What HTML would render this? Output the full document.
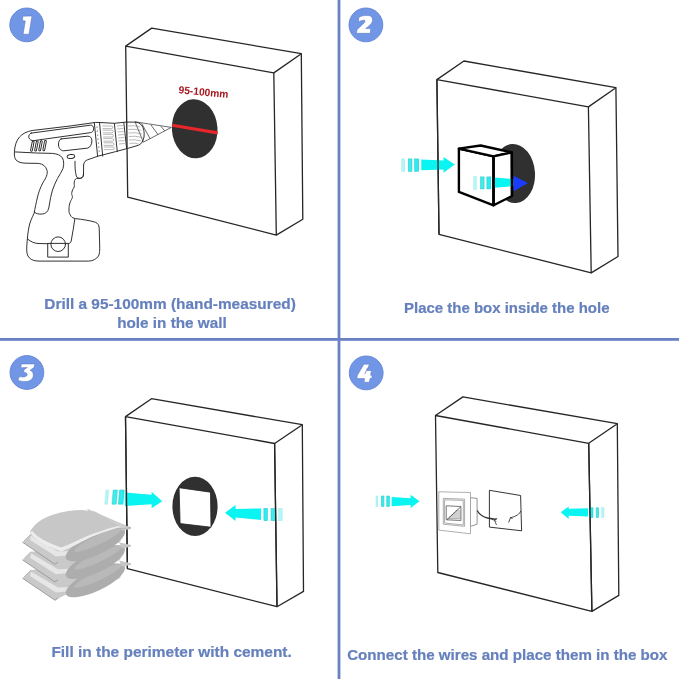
<!DOCTYPE html>
<html><head><meta charset="utf-8"><style>
html,body{margin:0;padding:0;background:#fff;width:679px;height:679px;overflow:hidden}
svg{display:block}
.t{font-family:"Liberation Sans",sans-serif;font-weight:bold;font-size:15px;fill:#6580bd;stroke:#6580bd;stroke-width:0.2}
.n{font-family:"Liberation Sans",sans-serif;font-weight:bold;font-style:italic;font-size:26px;fill:#fff}
.bx{fill:none;stroke:#262626;stroke-width:1.3;stroke-linejoin:round}
.dr{fill:none;stroke:#262626;stroke-width:0.95;stroke-linejoin:round;stroke-linecap:round}
.dl{fill:none;stroke:#8a8a8a;stroke-width:0.6}
</style></head><body>
<svg style="will-change:transform" width="679" height="679" viewBox="0 0 679 679">
<rect width="679" height="679" fill="#fff"/>
<!-- dividers -->
<rect x="337.6" y="0" width="2.8" height="679" fill="#6a82c4"/>
<rect x="0" y="338" width="679" height="2.8" fill="#6a82c4"/>

<!-- step circles -->
<circle cx="26.7" cy="24.9" r="16.9" fill="#7196e6" stroke="#6083d4" stroke-width="0.9"/>
<circle cx="365.9" cy="24.9" r="16.9" fill="#7196e6" stroke="#6083d4" stroke-width="0.9"/>
<circle cx="26.9" cy="372.5" r="16.9" fill="#7196e6" stroke="#6083d4" stroke-width="0.9"/>
<circle cx="366.2" cy="372.9" r="16.9" fill="#7196e6" stroke="#6083d4" stroke-width="0.9"/>
<g fill="#fff" stroke="#5571b8" stroke-width="0.5" stroke-linejoin="round">
<path d="M22.9,16.2 L31.9,16 L29,34.2 L23.1,34.2 L25.3,21 L22.4,20.4 Z"/>
<path d="M358.9,17.2 C361,15.9 364,15.5 367.7,15.5 C371,15.6 372.8,17.2 372.6,20 C372.4,22.5 370.8,24.5 368.8,26 L365.7,28.6 L370.7,28.6 L370.3,33.3 L356.3,33.3 L357,29.7 L364,23 C365.2,21.8 365.5,20.8 364.5,20.3 C362.5,20 360.5,20.8 358.5,21.9 Z"/>
<path d="M21.3,364 L34.9,364 L34,367.5 L30.1,370.3 C32.3,371 33.5,373 33.3,375.5 C33,379 30,381.4 26,381.5 C22.5,381.6 19.5,381 17.9,380.2 L19.4,376.6 C21,377 23,377.2 24.8,376.8 C26.6,376.4 27.4,375.5 27.2,374.3 C27,373 25.5,372.5 23.5,372.3 L24.3,369.5 L27.3,367.5 L20.8,367.7 Z"/>
<path d="M363.9,364.2 L369.4,364.2 L367,370.5 L371.4,370.5 L370.6,375.3 L372.2,375.3 L371.7,378.6 L370,378.6 L369.4,382.2 L364,382.2 L364.6,378.6 L356.8,378.6 L357.4,375.3 Z"/>
</g>
<line x1="364.8" y1="374" x2="367.6" y2="367.8" stroke="#5571b8" stroke-width="0.7"/>

<!-- ================= PANEL 1 ================= -->
<!-- box 1 -->
<g class="bx">
<polygon points="125.7,46.1 273.8,72.9 276.3,235.1 127.7,197.2"/>
<polyline points="125.7,46.1 151.7,28.1 301.3,53.7 273.8,72.9"/>
<polyline points="301.3,53.7 302.8,219.2 276.3,235.1"/>
</g>
<!-- hole 1 -->
<ellipse cx="194.7" cy="128.8" rx="22.8" ry="29.6" fill="#303030" transform="rotate(-4 194.7 128.8)"/>
<line x1="172.2" y1="125.3" x2="217.6" y2="132.9" stroke="#e6262b" stroke-width="3.1"/>
<text x="178.3" y="93.2" transform="rotate(5.5 178.3 93.2)" style="font-family:'Liberation Sans',sans-serif;font-weight:bold;font-size:10.5px;fill:#a8151e" textLength="50" lengthAdjust="spacingAndGlyphs">95-100mm</text>

<!-- drill -->
<g id="drill">
<!-- bit cone -->
<path d="M135,121.8 L171.3,127.4 L143.4,142.2 Z" fill="#fff" stroke="#3a3a3a" stroke-width="0.75" stroke-linejoin="round"/>
<path d="M141.6,123.4 L150.2,138.8 M150.9,124.9 L158.2,134.9 M160.8,126.3 L164.8,130.9" fill="none" stroke="#3a3a3a" stroke-width="0.75"/>
<!-- main body white fill -->
<path class="dr" fill="#fff" d="M95,122.5 L70,126 L32.1,130.5 C27,131.5 22.4,133.6 19.5,137 C16.5,140.5 14.9,145 14.4,151.5 C14.2,155 14.4,158 16,160 C18,162.2 21.5,163.1 25.9,163.2 L38.5,163.4 C43,163.8 46,166.5 47.1,170.5 C47.8,174 46,178 43.1,182.4 C40,188 38.5,193 37.5,197 C36,204 35,208 34.1,213.3 C31.8,218 30,222 29.2,226 C27.8,232 27.2,240 26.8,246 C26.5,252 26.8,255.5 29.7,258.2 C32,260.2 35,261.1 39,261.1 L88.6,261.1 C93,261 96.5,259 98.5,256 C99.7,253.5 99.8,250 99.7,246 L99.2,228 C99,225 97.8,223.3 95.5,222.3 C90,220.5 82,219.4 75.4,218.6 C73.5,218.2 72,217.6 71.2,216.5 C70,214.5 69,213 69,211.2 L69,207.7 C69.3,204 70.2,202 71,200.3 C71.8,199 72.5,198 72.4,196.5 C72.3,195.5 71.7,195 71.7,193.5 C71.7,192 72.5,190 73.3,188.6 C74,187.5 74.5,186.8 74.4,185.5 C74.2,184 74,182.5 74.6,180.6 C75,179.5 75.8,178.8 76.6,178.4 L78.9,178.4 C81.5,178.4 83,177.5 83.5,175 L83.6,165 C84,162 85.5,160.5 87.5,159.8 L98.2,156.1 L115.3,151.7 L127.4,148.5 L138.7,145.2 C141.5,144 143.2,141 144,137 C144.6,132 143.8,128 141.5,125 C139.5,123 137.5,122.2 135,122.1 L126,122.1 L114.4,123.3 L99.5,122.5 Z"/>
<!-- top inner line / upper slot -->
<path class="dr" d="M31.2,133.1 L90.3,125.2 C92.5,125.1 93.6,126.5 93.6,128.8 C93.6,131 92.5,132.4 90.3,132.7 L33.9,140.6 C31.5,140.9 29.3,139.5 28.8,137.5 C28.5,135.5 29.4,133.6 31.2,133.1 Z"/>
<!-- window -->
<path class="dr" d="M61.2,138.9 L87.7,136.2 C90.2,136 91.9,138 91.9,140.8 C91.9,144 90.2,147.6 87.7,148.1 L63.8,150.8 C61,151 58.6,148.2 58.5,145 C58.4,141.6 59.5,139.2 61.2,138.9 Z"/>
<!-- vents -->
<g class="dr" stroke-width="0.7">
<rect x="31.40" y="140.90" width="1.8" height="10.4" rx="0.9" transform="rotate(11 32.30 146.10)"/>
<rect x="35.50" y="140.75" width="1.8" height="10.4" rx="0.9" transform="rotate(11 36.40 145.95)"/>
<rect x="39.60" y="140.60" width="1.8" height="10.4" rx="0.9" transform="rotate(11 40.50 145.80)"/>
<rect x="43.70" y="140.45" width="1.8" height="10.4" rx="0.9" transform="rotate(11 44.60 145.65)"/>
</g>
<!-- trigger button -->
<ellipse class="dr" cx="70.9" cy="156.5" rx="3.8" ry="2" transform="rotate(-8 70.9 156.5)"/>
<!-- grip panel -->
<path class="dr" d="M14.6,151.9 L36.5,153 L52.4,153.4 C57,153.8 60.5,155 62.5,158 C64,161 64,165 63,168.5 C61.5,172 59.5,175 57.5,178.5 C55.5,182 54,186 52.5,190 C51,195 50,200 49.3,205 C48.8,209.5 47.5,212.5 44.5,213.5 C41.5,214.5 38,214.2 36,213.2 L34.3,212"/>
<!-- trigger -->
<path class="dr" d="M75,161.2 C74.8,166 75.2,172 76.3,176 C77,178 78.5,178.5 80.5,178.3 C82.5,178 83.4,176.5 83.5,174"/>
<!-- battery top -->
<path class="dr" d="M27.5,239 C31,241.8 34,243.2 38,243.5 L48.1,243.7 M68.3,243.8 C70,243.4 70.8,242.5 71.2,241 L73.2,229.5 L74.8,219.2"/>
<rect class="dr" x="48.1" y="243.4" width="20.2" height="13.7"/>
<circle class="dr" cx="58.2" cy="244.2" r="7.3" fill="#fff"/>
<!-- collar -->
<path class="dr" d="M94.3,122.6 L97.6,156.2 M99.5,122.5 L102.7,156.1"/>
<g fill="#333">
<circle cx="97" cy="127" r="0.6"/><circle cx="97.3" cy="131" r="0.6"/><circle cx="97.7" cy="135" r="0.6"/><circle cx="98" cy="139" r="0.6"/><circle cx="98.4" cy="143" r="0.6"/><circle cx="98.8" cy="147" r="0.6"/><circle cx="99.2" cy="151" r="0.6"/>
</g>
<!-- knurl 1 -->
<path class="dr" d="M114.4,123.7 L117.3,151.7 M123.8,122.5 L126.6,148.5"/>
<g class="dl">
<path d="M102.5,126 h9 a1.3,1.3 0 0 1 0,2.6 h-9 M102.8,130.2 h9 a1.3,1.3 0 0 1 0,2.6 h-9 M103.1,134.4 h9 a1.3,1.3 0 0 1 0,2.6 h-9 M103.4,138.6 h9 a1.3,1.3 0 0 1 0,2.6 h-9 M103.7,142.8 h9 a1.3,1.3 0 0 1 0,2.6 h-9 M104,147 h9 a1.3,1.3 0 0 1 0,2.6 h-9"/>
<path d="M117,126 l6,-0.5 M117.3,129 l6,-0.5 M117.6,132 l6,-0.5 M117.9,135 l6,-0.5 M118.2,138 l6,-0.5 M118.5,141 l6,-0.5 M118.8,144 l6,-0.5"/>
<path d="M128,126 q6,-1 12,1 M128.3,129.5 q6,-1 13,1 M128.6,133 q6,-1 13.5,1 M128.9,136.5 q6,-1 13.5,1 M129.2,140 q6,-1 12,1 M129.5,143.5 q5,-1 9,0.5"/>
</g>
</g>

<!-- ================= PANEL 2 ================= -->
<g class="bx">
<polygon points="436.9,79.6 588.4,106.9 591.2,272.9 439,234.3"/>
<polyline points="436.9,79.6 463.9,61 615.9,87.7 588.4,106.9"/>
<polyline points="615.9,87.7 618,256.5 591.2,272.9"/>
</g>
<ellipse cx="514" cy="173.5" rx="21" ry="29.6" fill="#303030" transform="rotate(-4 514 173.5)"/>

<!-- arrow 1 panel 2 -->
<g id="a2a">
<rect x="401.7" y="158.9" width="3.1" height="12.4" fill="#b2f6f6" stroke="#9ae6e6" stroke-width="0.4"/>
<rect x="408.2" y="158.9" width="3.8" height="12.4" fill="#40ecea" stroke="#25c6c8" stroke-width="0.5"/>
<rect x="414.6" y="158.9" width="4.1" height="12.4" fill="#2cecef" stroke="#1ac2c8" stroke-width="0.5"/>
<path d="M421.3,159.4 L443.5,160.4 L443.5,156.9 L454.8,164.6 L443.5,172.8 L443.5,169.4 L421.3,170.3 Z" fill="#0af4f2"/>
</g>
<!-- box 2 left edge redrawn over arrow -->
<line x1="436.9" y1="79.6" x2="439" y2="234.3" stroke="#262626" stroke-width="1.3"/>

<!-- small cube -->
<g stroke="#000" stroke-width="2.4" stroke-linejoin="round" fill="#fff">
<polygon points="458.9,148.6 493.6,156.4 493.6,205.3 458.9,191.9"/>
<polygon points="458.9,148.6 480.6,145.5 511.8,152.4 493.6,156.4"/>
<polygon points="493.6,156.4 511.8,152.4 512,196 493.6,205.3"/>
</g>
<!-- arrow 2 panel 2 -->
<g id="a2b">
<rect x="473.8" y="176.5" width="2.5" height="13" fill="#b2f6f6" stroke="#9ae6e6" stroke-width="0.4"/>
<rect x="480.5" y="176.9" width="3.6" height="12" fill="#40ecea" stroke="#25c6c8" stroke-width="0.5"/>
<rect x="486.9" y="176.9" width="3.9" height="12" fill="#2cecef" stroke="#1ac2c8" stroke-width="0.5"/>
<path d="M494.4,177.4 L513.5,178.9 L513.5,186.1 L494.4,187.7 Z" fill="#0af4f2"/>
<path d="M513.5,178.9 L513.5,175.8 L527.9,183 L513.5,191.3 L513.5,186.1 Z" fill="#1a3cff"/>
</g>
<line x1="493.6" y1="156.4" x2="493.6" y2="205.3" stroke="#000" stroke-width="2.4"/>
<line x1="511.8" y1="152.4" x2="512" y2="196" stroke="#000" stroke-width="2.4"/>

<!-- ================= PANEL 3 ================= -->
<g class="bx">
<polygon points="125.5,416.6 274.6,443.5 277,606.7 127.4,568.7"/>
<polyline points="125.5,416.6 151.5,398.7 302.3,424.7 274.6,443.5"/>
<polyline points="302.3,424.7 303.5,591.4 277,606.7"/>
</g>
<ellipse cx="195" cy="506.4" rx="22.6" ry="29.6" fill="#303030"/>
<polygon points="179.1,487.7 210.5,492.2 211,527.2 180.1,523.6" fill="#fff" stroke="#222" stroke-width="0.8"/>

<!-- arrows panel 3 -->
<g id="a3a">
<path d="M106,490 L108.8,490 L107.5,504.2 L104.7,504.2 Z" fill="#b2f6f6" stroke="#9ae6e6" stroke-width="0.4"/>
<path d="M113.2,490 L117.4,490 L116.2,504.2 L112,504.2 Z" fill="#40ecea" stroke="#25c6c8" stroke-width="0.5"/>
<path d="M119.6,490 L124.2,490 L123,504.2 L118.4,504.2 Z" fill="#2cecef" stroke="#1ac2c8" stroke-width="0.5"/>
<path d="M125,492.4 L151.6,494.7 L151.6,491.8 L162.2,501.2 L151.6,508.3 L151.6,504.2 L125,505.9 Z" fill="#0af4f2"/>
</g>
<line x1="125.5" y1="416.6" x2="127.4" y2="568.7" stroke="#262626" stroke-width="1.3"/>
<g id="a3b">
<path d="M225,512.7 L235.6,505 L235.6,508.9 L261,508.5 L261,520 L235.6,517.4 L235.6,520.9 Z" fill="#0af4f2"/>
<rect x="263.9" y="508.5" width="3.5" height="12.2" fill="#2cecef" stroke="#1ac2c8" stroke-width="0.5"/>
<rect x="271" y="508.5" width="4.1" height="12.2" fill="#40ecea" stroke="#25c6c8" stroke-width="0.5"/>
<rect x="278.6" y="508.5" width="3.6" height="12.2" fill="#b2f6f6" stroke="#9ae6e6" stroke-width="0.4"/>
</g>
<line x1="274.6" y1="443.5" x2="277" y2="606.7" stroke="#262626" stroke-width="1.3"/>

<!-- cement bags -->
<g id="bags">
<defs>
<g id="bag">
<path d="M22.5,542.2 L31,534 L75,530 L112,527 L126,528 L120,542 L92,557 L66,558.5 L55,564.3 Z" fill="#c9c9c9"/>
<path d="M31,535.5 L58,551.5 L70,551 L66,555.5 L56,556.5 L30,540 Z" fill="#e6e6e6"/>
<path d="M22.5,542.2 L55,564.3 L58,562" fill="none" stroke="#8f8f8f" stroke-width="0.8"/>
<path d="M24,541 L31,534" fill="none" stroke="#b0b0b0" stroke-width="0.8"/>
<ellipse cx="95.3" cy="544.5" rx="32.5" ry="10.5" fill="#adadad" transform="rotate(-25.4 95.3 544.5)"/>
<ellipse cx="98" cy="540" rx="26" ry="4.5" fill="#b9b9b9" transform="rotate(-25.4 98 540)"/>
<path d="M119,524.5 L131,527.2 L131,529 L122,530.5 Z" fill="#c6c6c6"/>
</g>
</defs>
<use href="#bag" transform="translate(0,36)"/>
<use href="#bag" transform="translate(0,17.7)"/>
<use href="#bag"/>
<!-- top surface of top bag -->
<path d="M87.6,509.4 L125,525.5 L131,527.8 L118,528.5 L96,516 Z" fill="#d2d2d2" stroke="#a8a8a8" stroke-width="0.5"/>
<path d="M30,531.5 C35,523 43,518 52,515 C62,511.5 72,510 82,510 L95,511.5 L121,526.5 C110,530.5 98,534 88,538.5 C78,543 70,548 62,551 C50,548 38,542 32,536 Z" fill="#c7c7c7"/>
<path d="M30.5,533 C33,538 40,543 50,547 L61,551.5 C70,548.5 79,543 88,538.5 C98,534 108,530.5 121,526.8 L118,526 C106,529 96,532.5 86,536.5 C77,540.5 69,545 61,547.5 L52,544 C43,540 36,536 32,530.5 Z" fill="#ececec"/>
</g>

<!-- ================= PANEL 4 ================= -->
<g class="bx">
<polygon points="435.5,415.5 588.7,443.3 591.9,611.4 437.8,572.5"/>
<polyline points="435.5,415.5 462.9,396.9 617.3,423.7 588.7,443.3"/>
<polyline points="617.3,423.7 618.8,595.4 591.9,611.4"/>
</g>
<!-- device -->
<g id="device">
<polygon points="470.5,497.7 477.1,498.4 477.1,524.2 470.5,526.4" fill="#fff" stroke="#777" stroke-width="0.8"/>
<polygon points="438.8,491.8 470.5,492.5 470.5,533.8 438.8,530.1" fill="#fff" stroke="#9a9a9a" stroke-width="0.8"/>
<polygon points="443.3,498.4 464.6,499.1 464.6,526.4 443.3,524.2" fill="none" stroke="#8a8a8a" stroke-width="0.7"/>
<polygon points="444.6,499.8 463.3,500.4 463.3,525 444.6,523" fill="none" stroke="#8a8a8a" stroke-width="0.7"/>
<polygon points="446.2,505.8 460.9,506.5 460.9,520.5 446.2,519.8" fill="#fff" stroke="#555" stroke-width="0.8"/>
<path d="M447,519.6 L460.6,507" stroke="#333" stroke-width="0.8"/>
<path d="M455.5,511 h5 M453.3,513 h7.3 M451.2,515 h9.4 M449,517 h11.6 M447.5,518.7 h13" stroke="#666" stroke-width="0.6"/>
<path d="M477.1,510.5 C479.5,514.5 482.5,516.8 487.5,518 L496.5,519.4" fill="none" stroke="#333" stroke-width="1.3"/>
<polygon points="489.4,490.3 520.6,495.5 521.6,530.8 489.4,527.1" fill="none" stroke="#1e1e1e" stroke-width="0.9"/>
<path d="M490,518.6 C493,519.5 495,520.5 496.3,521.5 M494.5,520.4 L496.5,525 M494.3,519.6 L497.2,518.4" fill="none" stroke="#333" stroke-width="0.8"/>
<path d="M520.8,510.8 C520,514 516,516.6 510,517.8 M510.5,517.7 L508.6,522.5 M510.5,517.7 L512.5,518.5" fill="none" stroke="#333" stroke-width="0.9"/>
</g>
<!-- arrows panel 4 -->
<g id="a4a">
<rect x="376" y="496" width="1.9" height="10.6" fill="#b2f6f6" stroke="#9ae6e6" stroke-width="0.4"/>
<rect x="381.3" y="496" width="2.7" height="10.6" fill="#40ecea" stroke="#25c6c8" stroke-width="0.5"/>
<rect x="386.8" y="496" width="2.6" height="10.6" fill="#2cecef" stroke="#1ac2c8" stroke-width="0.5"/>
<path d="M391.6,496.9 L410.6,498.3 L410.6,494.7 L419.5,501.3 L410.6,508 L410.6,504.9 L391.6,506.2 Z" fill="#0af4f2"/>
</g>
<g id="a4b">
<path d="M560.7,512.2 L568.7,506.5 L568.7,508.7 L588.1,508.3 L588.1,516.6 L568.7,515.8 L568.7,518.9 Z" fill="#0af4f2"/>
<rect x="590.3" y="507.8" width="2.7" height="9.7" fill="#2cecef" stroke="#1ac2c8" stroke-width="0.5"/>
<rect x="596.1" y="507.8" width="2.6" height="9.7" fill="#40ecea" stroke="#25c6c8" stroke-width="0.5"/>
<rect x="601.8" y="507.8" width="2.2" height="9.7" fill="#b2f6f6" stroke="#9ae6e6" stroke-width="0.4"/>
</g>
<line x1="588.7" y1="443.3" x2="591.9" y2="611.4" stroke="#262626" stroke-width="1.3"/>

<!-- captions -->
<text class="t" x="44.3" y="308.6" textLength="251.5" lengthAdjust="spacingAndGlyphs">Drill a 95-100mm (hand-measured)</text>
<text class="t" x="117.2" y="327.8" textLength="109.5" lengthAdjust="spacingAndGlyphs">hole in the wall</text>
<text class="t" x="404" y="313" textLength="205.5" lengthAdjust="spacingAndGlyphs">Place the box inside the hole</text>
<text class="t" x="51.4" y="657" textLength="240.4" lengthAdjust="spacingAndGlyphs">Fill in the perimeter with cement.</text>
<text class="t" x="347.2" y="659.8" textLength="320.3" lengthAdjust="spacingAndGlyphs">Connect the wires and place them in the box</text>
</svg>
</body></html>
